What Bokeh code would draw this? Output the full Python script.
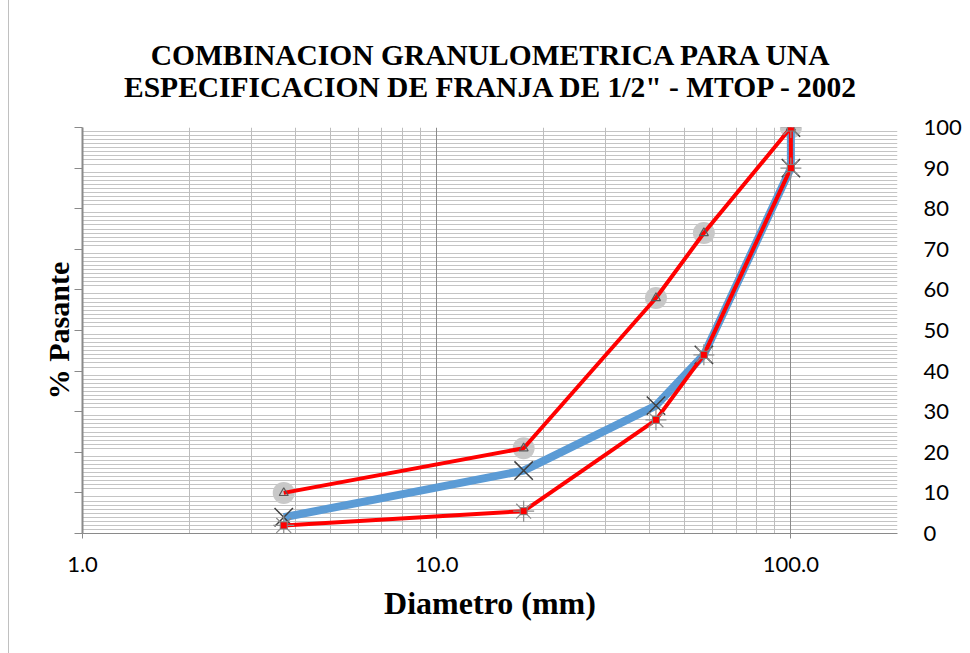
from bokeh.plotting import figure
from bokeh.layouts import row, column
from bokeh.models import (LinearAxis, FixedTicker, Grid, Range1d,
                          PrintfTickFormatter, Div)
from bokeh.core.properties import value
from bokeh.embed import file_html
from bokeh.resources import INLINE

# Diámetros de tamiz (mm) y porcentaje que pasa
upper_diam = [3.7, 17.6, 41.6, 56.8, 100.0]
upper_pct = [10, 21, 58, 74, 100]          # límite superior de la franja

lower_diam = [3.7, 17.6, 41.6, 56.8, 100.0, 100.0]
lower_pct = [2, 5.5, 28, 44, 90, 100]      # límite inferior de la franja

mix_diam = [3.7, 17.6, 41.6, 56.8, 100.0, 100.0]
mix_pct = [4, 15.5, 31.5, 44, 90, 100]     # combinación granulométrica

x_major = [1, 10, 100]
x_minor = [2, 3, 4, 5, 6, 7, 8, 9, 20, 30, 40, 50, 60, 70, 80, 90, 200]
y_major = list(range(0, 101, 10))
y_minor = [v for v in range(1, 100) if v % 10 != 0]

title_lines = ["COMBINACION GRANULOMETRICA PARA UNA",
               'ESPECIFICACION DE FRANJA DE 1/2" - MTOP - 2002']

SERIF = "Liberation Serif"
SANS = "Lato"
W = 961          # width of the drawing to the right of the left edge line
HEAD = 112       # height of the heading strip

# heading strip: pixel coordinates, y measured from the top
head = figure(width=W, height=HEAD, x_range=Range1d(0, W), y_range=Range1d(HEAD, 0),
              output_backend="svg", toolbar_location=None,
              x_axis_location=None, y_axis_location=None, min_border=0,
              background_fill_color="white", border_fill_color="white")
head.outline_line_color = None
head.grid.grid_line_color = None
head.text(x=[482.5, 482.5], y=[54.5, 86.0], text=title_lines,
          text_align="center", text_baseline="alphabetic",
          text_font=value(SERIF), text_font_style="bold",
          text_font_size="29.5px", text_color="black")

p = figure(width=W, height=653 - HEAD, x_axis_type="log", x_range=(1, 200),
           y_range=(0, 100), output_backend="svg", toolbar_location=None,
           min_border_left=73, min_border_right=73, min_border_top=127 - HEAD,
           min_border_bottom=120, background_fill_color="white",
           border_fill_color="white")
p.outline_line_color = None
p.xgrid.grid_line_color = None
p.ygrid.grid_line_color = None

# grids
p.add_layout(Grid(dimension=1, ticker=FixedTicker(ticks=y_minor),
                  grid_line_color="#c4c4c4", grid_line_width=1))
p.add_layout(Grid(dimension=0, ticker=FixedTicker(ticks=x_minor),
                  grid_line_color="#bdbdbd", grid_line_width=1))
p.add_layout(Grid(dimension=0, ticker=FixedTicker(ticks=x_major),
                  grid_line_color="#8a8a8a", grid_line_width=1))

# bottom axis
xa = p.xaxis[0]
xa.ticker = FixedTicker(ticks=x_major, minor_ticks=[])
xa.formatter = PrintfTickFormatter(format="%.1f")
xa.major_tick_out = 5
xa.major_tick_in = 0
xa.minor_tick_out = 0
xa.minor_tick_in = 0
xa.axis_line_color = "#8a8a8a"
xa.major_tick_line_color = "#8a8a8a"
xa.major_label_text_font = SANS
xa.major_label_text_font_size = "22px"
xa.major_label_text_color = "black"
xa.major_label_standoff = 18
xa.axis_label = "Diametro (mm)"
xa.axis_label_text_font = SERIF
xa.axis_label_text_font_style = "bold"
xa.axis_label_text_font_size = "32px"
xa.axis_label_text_color = "black"
xa.axis_label_standoff = 10

# left axis: tick marks without labels (drawn as minor ticks)
ya = p.yaxis[0]
ya.ticker = FixedTicker(ticks=[], minor_ticks=y_major)
ya.minor_tick_out = 8
ya.minor_tick_in = 0
ya.minor_tick_line_color = "#8a8a8a"
ya.major_tick_out = 0
ya.axis_line_color = "#8a8a8a"
ya.axis_line_width = 2
ya.major_label_standoff = 0
ya.axis_label = "% Pasante"
ya.axis_label_text_font = SERIF
ya.axis_label_text_font_style = "bold"
ya.axis_label_text_font_size = "30px"
ya.axis_label_text_color = "black"
ya.axis_label_standoff = 0

# right axis: labels only
ra = LinearAxis(ticker=FixedTicker(ticks=y_major, minor_ticks=[]))
ra.axis_line_color = None
ra.major_tick_line_color = None
ra.minor_tick_line_color = None
ra.major_label_text_font = SANS
ra.major_label_text_font_size = "22px"
ra.major_label_text_color = "black"
ra.major_label_standoff = 20
p.add_layout(ra, "right")

# series
p.scatter(upper_diam, upper_pct, marker="circle", size=22,
          fill_color="#c8c8c8", line_color=None)
p.line(mix_diam, mix_pct, line_width=8, line_color="#5b9bd5")
p.scatter(mix_diam, mix_pct, marker="x", size=26, line_color="#3f3f3f",
          line_width=1.5)
p.line(upper_diam, upper_pct, line_width=4, line_color="#ff0000")
p.line(lower_diam, lower_pct, line_width=4, line_color="#ff0000")
p.scatter(lower_diam, lower_pct, marker="asterisk", size=21,
          line_color="#8c8c8c", line_width=1.2)
p.scatter(upper_diam, upper_pct, marker="triangle", size=9,
          fill_color=None, line_color="#595959", line_width=1.2)
p.scatter(lower_diam, lower_pct, marker="square", size=7,
          fill_color="#ff0000", line_color="#7f7f7f", line_width=1)

# thin edge of the chart area on the left
edge = Div(width=9, height=653, margin=0,
           styles={"border-right": "1px solid #c0c0c0", "box-sizing": "border-box"})

page = row(edge, column(head, p, spacing=0), spacing=0)
open("out.html", "w").write(file_html(page, INLINE))
